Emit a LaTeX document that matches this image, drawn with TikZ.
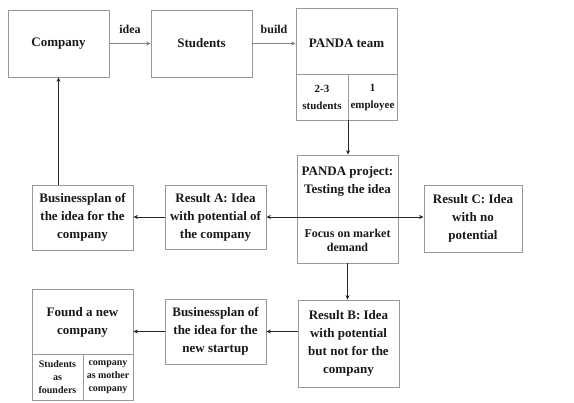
\documentclass[tikz,border=0pt]{standalone}
\usepackage{fontspec}
\setmainfont{Liberation Serif}
\usetikzlibrary{arrows.meta}
\begin{document}
\begin{tikzpicture}[x=1pt,y=-1pt,
  box/.style={draw=black!40, line width=0.8pt, rectangle, inner sep=0pt},
  txt/.style={align=center, font=\bfseries\fontsize{13}{18}\selectfont, text=black!90, inner sep=0pt},
  mid/.style={align=center, font=\bfseries\fontsize{12}{14}\selectfont, text=black!90, inner sep=0pt},
  cell/.style={align=center, font=\bfseries\fontsize{11}{17}\selectfont, text=black!90, inner sep=0pt},
  tiny/.style={align=center, font=\bfseries\fontsize{10}{13}\selectfont, text=black!90, inner sep=0pt},
  lbl/.style={font=\bfseries\fontsize{12}{14}\selectfont, text=black!90, inner sep=0pt},
  conn/.style={draw=black!85, line width=0.7pt, -{Stealth[length=4.5pt,width=4pt]}},
  thick conn/.style={draw=black!50, line width=1.4pt, -{Stealth[length=4.5pt,width=4pt]}},
  divider/.style={draw=black!40, line width=0.8pt}
]
\useasboundingbox[fill=white] (0,0) rectangle (574,403);

% top row
\node[box, minimum width=101pt, minimum height=67pt, txt] (company) at (58.5,43.5) {Company};
\node[box, minimum width=101pt, minimum height=67pt, txt] (students) at (201.5,43.5) {Students};
\node[box, minimum width=101pt, minimum height=112pt] (team) at (346.5,64) {};
\node[txt] (teamtitle) at (346.5,43) {PANDA team};
\coordinate (teamdivL) at (296,74);
\coordinate (teamdivR) at (397,74);
\coordinate (teamvT) at (348,74);
\coordinate (teamvB) at (348,120);
\draw[divider] (teamdivL) -- (teamdivR);
\draw[divider] (teamvT) -- (teamvB);
\node[cell] (teamstud) at (322,97.5) {2-3\\students};
\node[cell] (teamemp) at (372.5,97.5) {1\\employee};

% middle row
\node[box, minimum width=101pt, minimum height=108pt] (project) at (347.5,209) {};
\node[txt] (projtitle) at (347.5,181) {PANDA project:\\Testing the idea};
\node[mid] (projfocus) at (347.5,240) {Focus on market\\demand};
\coordinate (projdivL) at (297,217);
\coordinate (projdivR) at (398,217);
\draw[divider] (projdivL) -- (projdivR);
\coordinate (pmid) at (347.5,217);

\node[box, minimum width=98pt, minimum height=67pt, txt] (resC) at (473,218.5) {Result C: Idea\\with no\\potential};
\node[box, minimum width=101pt, minimum height=64pt, txt] (resA) at (215.5,217) {Result A: Idea\\with potential of\\the company};
\node[box, minimum width=101pt, minimum height=65pt, txt] (bpc) at (82.5,217.5) {Businessplan of\\the idea for the\\company};

% bottom row
\node[box, minimum width=101pt, minimum height=87pt, txt] (resB) at (348.5,343.5) {Result B: Idea\\with potential\\but not for the\\company};
\node[box, minimum width=101pt, minimum height=65pt, txt] (bps) at (215.5,331.5) {Businessplan of\\the idea for the\\new startup};
\node[box, minimum width=101pt, minimum height=111pt] (found) at (82.5,344.5) {};
\node[txt] (foundtitle) at (82.5,322) {Found a new\\company};
\coordinate (founddivL) at (32,354);
\coordinate (founddivR) at (133,354);
\coordinate (foundvT) at (83,354);
\coordinate (foundvB) at (83,400);
\draw[divider] (founddivL) -- (founddivR);
\draw[divider] (foundvT) -- (foundvB);
\node[tiny] (foundstud) at (57.5,377) {Students\\as\\founders};
\node[tiny] (foundcomp) at (108,377) {company\\as mother\\company};

% connectors
\draw[thick conn] (company.east) -- node[lbl, above=9pt] (idealbl) {idea} (students.west);
\draw[thick conn] (students.east) -- node[lbl, above=9pt] (buildlbl) {build} (students.east -| team.west);
\draw[conn] (teamvB) -- (teamvB |- project.north);
\draw[conn] (pmid) -- (resA.east |- pmid);
\draw[conn] (pmid) -- (resC.west |- pmid);
\draw[conn] (resA.west) -- (resA.west -| bpc.east);
\draw[conn] (company.south |- bpc.north) -- (company.south);
\draw[conn] (project.south) -- (project.south |- resB.north);
\draw[conn] (bps.east -| resB.west) -- (bps.east);
\draw[conn] (bps.west) -- (bps.west -| found.east);
\end{tikzpicture}
\end{document}
